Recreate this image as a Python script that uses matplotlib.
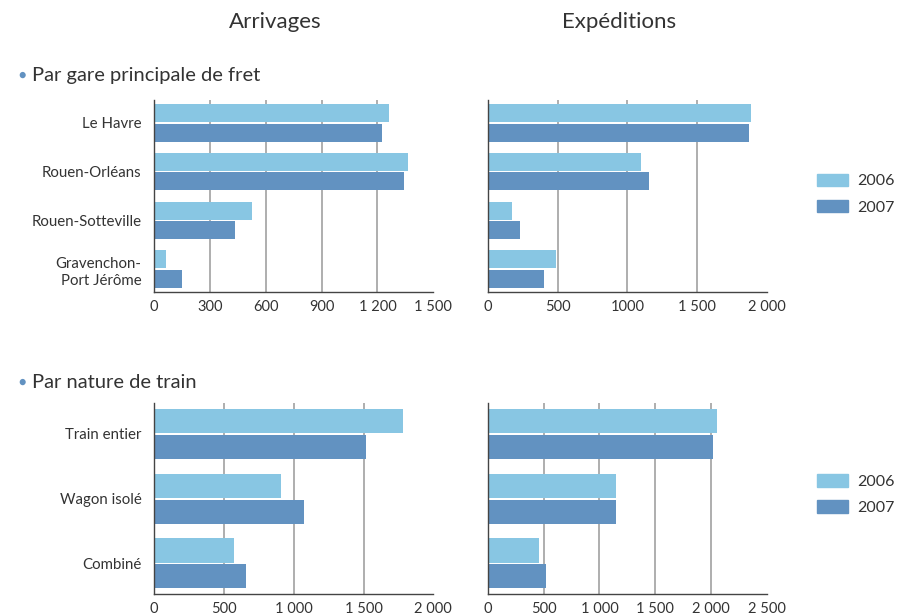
import numpy as np
import matplotlib
matplotlib.use("Agg")
import matplotlib.pyplot as plt
from matplotlib.patches import Patch

plt.rcParams['font.family'] = ['Lato', 'DejaVu Sans']

# --- data ---
gares = ["Le Havre", "Rouen-Orléans", "Rouen-Sotteville", "Gravenchon-\nPort Jérôme"]
gares_arr_2006 = [1263, 1366, 527, 65]
gares_arr_2007 = [1226, 1344, 435, 150]
gares_exp_2006 = [1888, 1095, 174, 488]
gares_exp_2007 = [1874, 1152, 231, 402]

trains = ["Train entier", "Wagon isolé", "Combiné"]
trains_arr_2006 = [1783, 909, 573]
trains_arr_2007 = [1518, 1074, 659]
trains_exp_2006 = [2053, 1149, 459]
trains_exp_2007 = [2017, 1147, 522]

ticks_gares_arr = [0, 300, 600, 900, 1200, 1500]
labels_gares_arr = ["0", "300", "600", "900", "1 200", "1 500"]
ticks_gares_exp = [0, 500, 1000, 1500, 2000]
labels_gares_exp = ["0", "500", "1000", "1 500", "2 000"]
ticks_trains_arr = [0, 500, 1000, 1500, 2000]
labels_trains_arr = ["0", "500", "1 000", "1 500", "2 000"]
ticks_trains_exp = [0, 500, 1000, 1500, 2000, 2500]
labels_trains_exp = ["0", "500", "1 000", "1 500", "2 000", "2 500"]

C06 = "#88C6E3"
C07 = "#6292C1"
TXT = "#333333"

fig = plt.figure(figsize=(8.97, 6.16), dpi=100)

BAR_H = 0.37
GAP = 0.03


def draw(ax, cats, v06, v07, ticks, labels, show_cats):
    y = np.arange(len(cats))
    off = BAR_H / 2 + GAP / 2
    ax.barh(y - off, v06, height=BAR_H, color=C06, zorder=2)
    ax.barh(y + off, v07, height=BAR_H, color=C07, zorder=2)
    half = off + BAR_H / 2 + 0.085
    ax.set_ylim(len(cats) - 1 + half, -half)
    ax.set_xlim(0, ticks[-1])
    for t in ticks[1:-1]:
        ax.axvline(t, color="#A8A8A8", lw=1.3, zorder=1)
    ax.set_xticks(ticks)
    ax.set_xticklabels(labels, fontsize=10.5, color=TXT)
    ax.set_xticks([0, ticks[-1]], minor=True)
    ax.tick_params(axis="x", which="major", length=0, pad=6)
    ax.tick_params(axis="x", which="minor", length=4, width=1, color="#444444")
    ax.set_yticks(y)
    if show_cats:
        ax.set_yticklabels(cats, fontsize=10.8, color=TXT, linespacing=1.35)
    else:
        ax.set_yticklabels([])
    ax.tick_params(axis="y", length=0, pad=9)
    for s in ["top", "right"]:
        ax.spines[s].set_visible(False)
    ax.spines["left"].set_color("#444444")
    ax.spines["bottom"].set_color("#444444")
    ax.spines["left"].set_linewidth(1.0)
    ax.spines["bottom"].set_linewidth(1.0)


L1, R1, W = 0.1717, 0.5437, 0.3114
ax1 = fig.add_axes([L1, 0.526, W, 0.3117])
ax2 = fig.add_axes([R1, 0.526, W, 0.3117])
ax3 = fig.add_axes([L1, 0.0357, W, 0.310])
ax4 = fig.add_axes([R1, 0.0357, W, 0.310])

draw(ax1, gares, gares_arr_2006, gares_arr_2007, ticks_gares_arr, labels_gares_arr, True)
draw(ax2, gares, gares_exp_2006, gares_exp_2007, ticks_gares_exp, labels_gares_exp, False)
draw(ax3, trains, trains_arr_2006, trains_arr_2007, ticks_trains_arr, labels_trains_arr, True)
draw(ax4, trains, trains_exp_2006, trains_exp_2007, ticks_trains_exp, labels_trains_exp, False)

fig.text(275 / 897, 1 - 22 / 616, "Arrivages", fontsize=16, color=TXT, ha="center", va="center")
fig.text(619 / 897, 1 - 22 / 616, "Expéditions", fontsize=16, color=TXT, ha="center", va="center")

for ypx, txt in [(76, "Par gare principale de fret"), (383, "Par nature de train")]:
    fig.text(22 / 897, 1 - (ypx - 1) / 616, "●", fontsize=9, color=C07, ha="center", va="center")
    fig.text(32 / 897, 1 - ypx / 616, txt, fontsize=14.5, color=TXT, ha="left", va="center")

handles = [Patch(color=C06, label="2006"), Patch(color=C07, label="2007")]
for ax, yanc in ((ax2, 0.51), (ax4, 0.52)):
    ax.legend(handles=handles, loc="center left", bbox_to_anchor=(1.18, yanc),
              frameon=False, fontsize=11.5, handlelength=1.9, handleheight=0.85,
              handletextpad=0.6, labelspacing=0.7, borderpad=0, borderaxespad=0,
              labelcolor=TXT)

fig.savefig("out.png", dpi=100)
